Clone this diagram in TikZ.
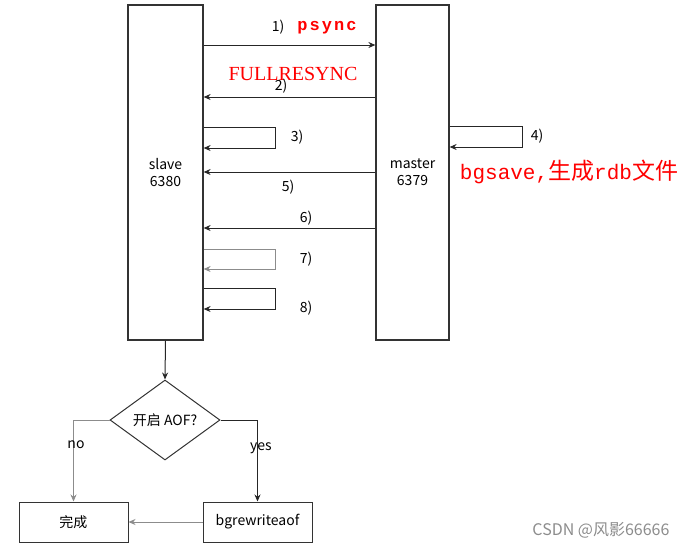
\documentclass[tikz,border=0pt]{standalone}
\usepackage{fontspec}
\setmainfont{Noto Sans CJK SC}
\newfontfamily\redmono[LetterSpace=12]{Liberation Mono}
\newfontfamily\redmonob{Liberation Mono}
\newfontfamily\redserif{Liberation Serif}
\newfontfamily\cjk{Noto Sans CJK SC}
\usetikzlibrary{arrows.meta,shapes.geometric}
\begin{document}
\begin{tikzpicture}[x=1pt,y=-1pt,
  box/.style={draw=black!80, line width=1.2pt, inner sep=0pt, align=center, font=\fontsize{14}{17}\selectfont},
  arr/.style={draw=black!85, line width=1pt, -{Stealth[length=7pt,width=6pt]}},
  garr/.style={draw=black!45, line width=1pt, -{Stealth[length=7pt,width=6pt]}},
  lbl/.style={font=\fontsize{14}{16}\selectfont, inner sep=0pt},
  redlbl/.style={text=red, inner sep=0pt}]
\useasboundingbox (0,0) rectangle (689,550);
% main boxes
\node[box, minimum width=75pt, minimum height=335pt] (slave) at (165.5,172.5) {slave\\6380};
\node[box, minimum width=73pt, minimum height=335pt] (master) at (412.5,172.5) {master\\6379};
% 1
\draw[arr] (slave.east |- 0,45) -- (master.west |- 0,45);
\node[lbl] (l1) at (278,27) {1)};
\node[redlbl, font=\redmono\bfseries\fontsize{17}{20}\selectfont] (psync) at (327,28) {psync};
% 2
\draw[arr] (master.west |- 0,97) -- (slave.east |- 0,97);
\node[redlbl, font=\redserif\fontsize{20}{22}\selectfont] (full) at (293,74) {FULLRESYNC};
\node[lbl] (l2) at (281,86) {2)};
% 3
\draw[arr] (slave.east |- 0,127) -| (275,148) -- (slave.east |- 0,148);
\node[lbl] (l3) at (297,137) {3)};
% 4
\draw[arr] (master.east |- 0,126) -| (522,147) -- (master.east |- 0,147);
\node[lbl] (l4) at (537,136) {4)};
\node[redlbl, font=\fontsize{23}{26}\selectfont] (bgs) at (569,172) {{\redmonob\fontsize{21}{24}\selectfont bgsave,}生成{\redmonob\fontsize{21}{24}\selectfont rdb}文件};
% 5
\draw[arr] (master.west |- 0,172) -- (slave.east |- 0,172);
\node[lbl] (l5) at (288,187) {5)};
% 6
\draw[arr] (master.west |- 0,228) -- (slave.east |- 0,228);
\node[lbl] (l6) at (306,218) {6)};
% 7
\draw[garr] (slave.east |- 0,249) -| (275,269) -- (slave.east |- 0,269);
\node[lbl] (l7) at (306,259) {7)};
% 8
\draw[arr] (slave.east |- 0,288) -| (275,309) -- (slave.east |- 0,309);
\node[lbl] (l8) at (306,308) {8)};
% flowchart
\node[diamond, draw=black!80, line width=1pt, inner sep=0pt, minimum width=110pt, minimum height=80pt, aspect=1.375, font=\fontsize{14}{16}\selectfont] (dia) at (165,420) {开启 AOF?};
\node[box, line width=1pt, minimum width=109pt, minimum height=40pt] (done) at (73.5,522) {完成};
\node[box, line width=1pt, minimum width=109pt, minimum height=40pt] (bgr) at (257.5,522) {bgrewriteaof};
\draw[arr] (slave.south) -- (dia.north);
\draw[garr] (dia.west) -| (done.north);
\draw[arr] (dia.east) -| (bgr.north);
\draw[garr] (bgr.west) -- (done.east);
\node[lbl] (no) at (76,445) {no};
\node[lbl] (yes) at (261,448) {yes};
% watermark
\node[text=black!45, inner sep=0pt, font=\fontsize{16}{18}\selectfont] (wm) at (601,530) {CSDN @风影66666};
\end{tikzpicture}
\end{document}
